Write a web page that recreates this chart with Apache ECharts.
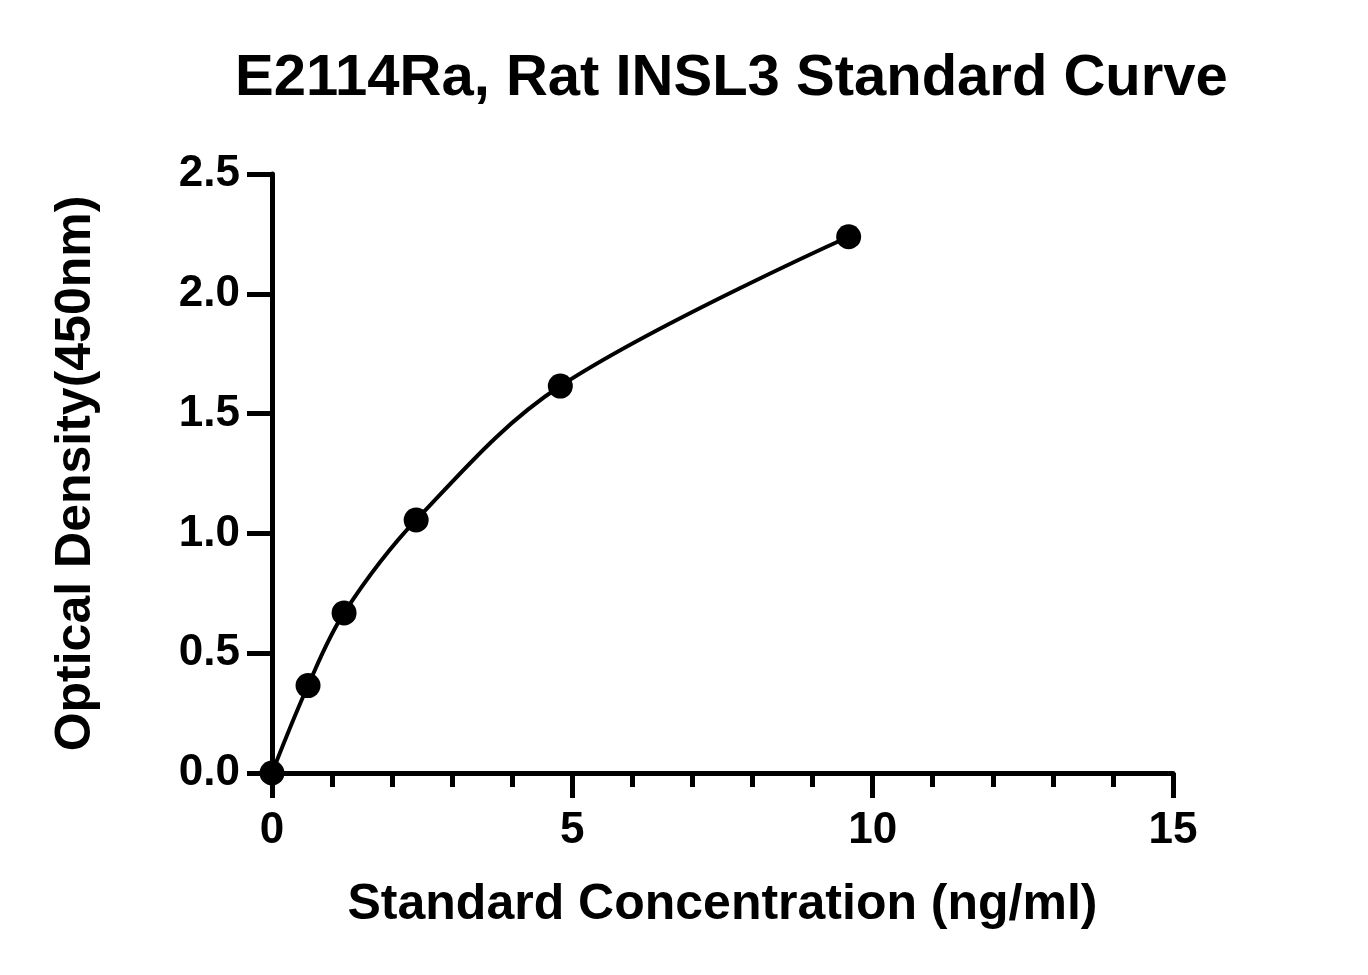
<!DOCTYPE html>
<html>
<head>
<meta charset="utf-8">
<script src="https://cdn.jsdelivr.net/npm/echarts@6/dist/echarts.min.js"></script>
<style>
  html, body { margin: 0; padding: 0; background: #fff; }
  #main { width: 1368px; height: 975px; }
</style>
</head>
<body>
<div id="main"></div>
<script>
const myChart = echarts.init(document.querySelector('#main'))

// standard concentrations (ng/ml) and measured OD at 450nm
const concentration = [0, 0.6, 1.2, 2.4, 4.8, 9.6]
const density = [0.0, 0.365, 0.668, 1.056, 1.615, 2.238]

const points = concentration.map((c, i) => [c, density[i]])
const font = 'Liberation Sans, Arial, sans-serif'

const option = {
  backgroundColor: '#fff',
  animation: false,
  title: {
    text: 'E2114Ra, Rat INSL3 Standard Curve',
    left: 230,
    top: 45,
    textStyle: { fontFamily: font, fontWeight: 'bold', fontSize: 58, color: '#000' }
  },
  grid: { left: 272, right: 195, top: 174, bottom: 202 },
  xAxis: {
    type: 'value',
    min: 0,
    max: 15,
    interval: 5,
    name: 'Standard Concentration (ng/ml)',
    nameLocation: 'middle',
    nameGap: 107,
    nameTextStyle: { fontFamily: font, fontWeight: 'bold', fontSize: 50, color: '#000' },
    axisLine: { lineStyle: { color: '#000', width: 5 } },
    axisTick: { length: 25, lineStyle: { color: '#000', width: 5 } },
    minorTick: { show: true, splitNumber: 5, length: 14, lineStyle: { color: '#000', width: 5 } },
    axisLabel: { margin: 36, fontFamily: font, fontWeight: 'bold', fontSize: 44, color: '#000' },
    splitLine: { show: false }
  },
  yAxis: {
    type: 'value',
    min: 0,
    max: 2.5,
    interval: 0.5,
    name: 'Optical Density(450nm)',
    nameLocation: 'middle',
    nameGap: 171,
    nameTextStyle: { fontFamily: font, fontWeight: 'bold', fontSize: 50, color: '#000' },
    axisLine: { show: true, lineStyle: { color: '#000', width: 5 } },
    axisTick: { show: true, length: 25, lineStyle: { color: '#000', width: 5 } },
    axisLabel: {
      margin: 32, fontFamily: font, fontWeight: 'bold', fontSize: 44, color: '#000',
      formatter: v => v.toFixed(1)
    },
    splitLine: { show: false }
  },
  series: [
    {
      type: 'line',
      data: points,
      smooth: 0.35,
      showSymbol: false,
      lineStyle: { color: '#000', width: 4 },
      z: 2
    },
    {
      type: 'scatter',
      data: points,
      symbol: 'circle',
      symbolSize: 25,
      itemStyle: { color: '#000', opacity: 1 },
      z: 3
    }
  ]
}

option && myChart.setOption(option)
</script>
</body>
</html>
